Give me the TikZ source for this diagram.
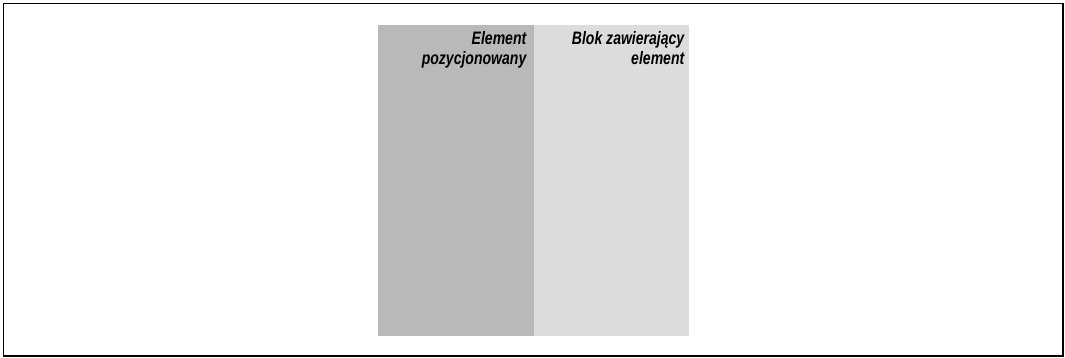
\documentclass[tikz,border=0pt]{standalone}
\usepackage{fontspec}
\newfontfamily\boxfont[FakeStretch=0.78]{Liberation Sans}
\usetikzlibrary{positioning}
\definecolor{darkbox}{HTML}{B9B9B9}
\definecolor{lightbox}{HTML}{DCDCDC}
\tikzstyle{frame}=[draw, line width=1.5pt]
\tikzstyle{block}=[rectangle, minimum width=155.5pt, minimum height=310.7pt
,inner sep=0pt
,outer sep=0pt
]
\tikzstyle{positioned block} = [block, fill=darkbox]
\tikzstyle{containing block} = [block, fill=lightbox]
\tikzstyle{caption} = [inner sep=0pt, align=right, anchor=north east
,font=\boxfont\bfseries\itshape\fontsize{18}{20}\selectfont
]

\begin{document}
\begin{tikzpicture}[x=1pt,y=1pt]
    \useasboundingbox (0,0) rectangle (1065,358);
    % Outer frame
    \path[frame] (3.5,2) rectangle (1063,354.5);
    % The two blocks side by side
    \node[positioned block] (positioned) at (455.75,177.65) {};
    \node[containing block, right=0pt of positioned] (containing) {};
    % Captions in the upper right corners
    \node[caption] (positioned label) at ([xshift=-7pt,yshift=-6.5pt]positioned.north east) {Element\\pozycjonowany};
    \node[caption] (containing label) at ([xshift=-4.5pt,yshift=-6.5pt]containing.north east) {Blok zawierający\\element};
\end{tikzpicture}
\end{document}
